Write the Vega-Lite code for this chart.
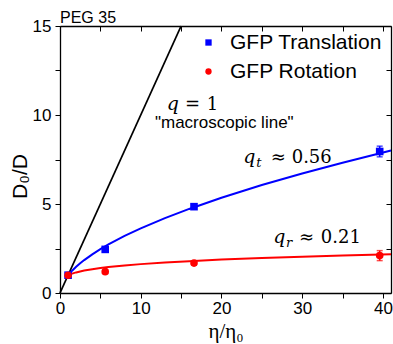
{
  "$schema": "https://vega.github.io/schema/vega-lite/v6.json",
  "autosize": {"type": "none"},
  "padding": {"left": 60, "top": 26, "right": 2, "bottom": 51},
  "width": 331,
  "height": 267,
  "background": "white",
  "config": {
    "view": {"stroke": null},
    "font": "Liberation Sans",
    "axis": {"grid": false, "domainColor": "black", "domainWidth": 1.3, "tickColor": "black", "tickWidth": 1, "labelColor": "black", "titleColor": "black", "labelFont": "Liberation Sans", "labelFontSize": 17}
  },
  "datasets": {
    "pts": [
      {"eta": 1.0, "d": 1.0, "lo": 0.92, "hi": 1.08, "series": "GFP Translation"},
      {"eta": 5.6, "d": 2.45, "lo": 2.35, "hi": 2.55, "series": "GFP Translation"},
      {"eta": 16.6, "d": 4.85, "lo": 4.75, "hi": 4.95, "series": "GFP Translation"},
      {"eta": 39.6, "d": 7.95, "lo": 7.65, "hi": 8.25, "series": "GFP Translation"},
      {"eta": 1.0, "d": 1.0, "lo": 0.92, "hi": 1.08, "series": "GFP Rotation"},
      {"eta": 5.6, "d": 1.2, "lo": 1.1, "hi": 1.3, "series": "GFP Rotation"},
      {"eta": 16.6, "d": 1.68, "lo": 1.58, "hi": 1.78, "series": "GFP Rotation"},
      {"eta": 39.6, "d": 2.1, "lo": 1.82, "hi": 2.38, "series": "GFP Rotation"}
    ],
    "fit": [
      {"eta": 1, "d": 1.0, "series": "GFP Translation"},
      {"eta": 1.25, "d": 1.133, "series": "GFP Translation"},
      {"eta": 1.5, "d": 1.255, "series": "GFP Translation"},
      {"eta": 2, "d": 1.474, "series": "GFP Translation"},
      {"eta": 2.5, "d": 1.670, "series": "GFP Translation"},
      {"eta": 3, "d": 1.850, "series": "GFP Translation"},
      {"eta": 4, "d": 2.173, "series": "GFP Translation"},
      {"eta": 5, "d": 2.463, "series": "GFP Translation"},
      {"eta": 6, "d": 2.728, "series": "GFP Translation"},
      {"eta": 8, "d": 3.204, "series": "GFP Translation"},
      {"eta": 10, "d": 3.631, "series": "GFP Translation"},
      {"eta": 13, "d": 4.205, "series": "GFP Translation"},
      {"eta": 16, "d": 4.723, "series": "GFP Translation"},
      {"eta": 20, "d": 5.353, "series": "GFP Translation"},
      {"eta": 25, "d": 6.065, "series": "GFP Translation"},
      {"eta": 30, "d": 6.718, "series": "GFP Translation"},
      {"eta": 35, "d": 7.322, "series": "GFP Translation"},
      {"eta": 41, "d": 8.001, "series": "GFP Translation"},
      {"eta": 1, "d": 1.0, "series": "GFP Rotation"},
      {"eta": 1.25, "d": 1.048, "series": "GFP Rotation"},
      {"eta": 1.5, "d": 1.089, "series": "GFP Rotation"},
      {"eta": 2, "d": 1.157, "series": "GFP Rotation"},
      {"eta": 2.5, "d": 1.212, "series": "GFP Rotation"},
      {"eta": 3, "d": 1.259, "series": "GFP Rotation"},
      {"eta": 4, "d": 1.338, "series": "GFP Rotation"},
      {"eta": 5, "d": 1.402, "series": "GFP Rotation"},
      {"eta": 6, "d": 1.457, "series": "GFP Rotation"},
      {"eta": 8, "d": 1.548, "series": "GFP Rotation"},
      {"eta": 10, "d": 1.622, "series": "GFP Rotation"},
      {"eta": 13, "d": 1.714, "series": "GFP Rotation"},
      {"eta": 16, "d": 1.790, "series": "GFP Rotation"},
      {"eta": 20, "d": 1.876, "series": "GFP Rotation"},
      {"eta": 25, "d": 1.966, "series": "GFP Rotation"},
      {"eta": 30, "d": 2.043, "series": "GFP Rotation"},
      {"eta": 35, "d": 2.110, "series": "GFP Rotation"},
      {"eta": 41, "d": 2.181, "series": "GFP Rotation"}
    ]
  },
  "resolve": {"axis": {"x": "independent", "y": "independent"}},
  "layer": [
    {
      "data": {"values": [{"eta": 0, "d": 0}, {"eta": 15, "d": 15}]},
      "mark": {"type": "line", "color": "black", "strokeWidth": 1.8},
      "encoding": {
        "x": {"field": "eta", "type": "quantitative", "scale": {"domain": [0, 41], "nice": false, "zero": false},
              "axis": {"orient": "bottom", "values": [0, 5, 10, 15, 20, 25, 30, 35, 40], "labelExpr": "datum.value % 10 === 0 ? datum.label : ''", "tickSize": 5, "labelPadding": 2, "title": "η/η₀", "titleFont": "Liberation Serif", "titleFontSize": 21, "titleFontWeight": "normal", "titlePadding": 4, "labelFlush": false, "labelOverlap": false}},
        "y": {"field": "d", "type": "quantitative", "scale": {"domain": [0, 15], "nice": false},
              "axis": {"orient": "left", "values": [0, 2.5, 5, 7.5, 10, 12.5, 15], "labelExpr": "datum.value % 5 === 0 ? datum.label : ''", "tickSize": 5, "labelPadding": 4, "title": "D₀/D", "titleFont": "Liberation Sans", "titleFontSize": 21, "titleFontWeight": "normal", "titleAngle": -90, "titleBaseline": "alphabetic", "titleAlign": "center", "titleX": -34, "titleY": 150, "labelFlush": false, "labelOverlap": false}}
      }
    },
    {
      "data": {"name": "fit"},
      "transform": [{"filter": "datum.series === 'GFP Translation'"}],
      "mark": {"type": "line", "strokeWidth": 2, "color": "#0000ff"},
      "encoding": {
        "x": {"field": "eta", "type": "quantitative", "axis": {"orient": "top", "values": [0, 5, 10, 15, 20, 25, 30, 35, 40], "labels": false, "tickSize": -5, "title": null}},
        "y": {"field": "d", "type": "quantitative", "axis": {"orient": "right", "values": [0, 2.5, 5, 7.5, 10, 12.5, 15], "labels": false, "tickSize": -5, "title": null}}
      }
    },
    {
      "data": {"name": "fit"},
      "transform": [{"filter": "datum.series === 'GFP Rotation'"}],
      "mark": {"type": "line", "strokeWidth": 2, "color": "#ff0000"},
      "encoding": {
        "x": {"field": "eta", "type": "quantitative", "axis": null},
        "y": {"field": "d", "type": "quantitative", "axis": null}
      }
    },
    {
      "data": {"name": "pts"},
      "transform": [{"filter": "datum.series === 'GFP Translation'"}],
      "mark": {"type": "errorbar", "ticks": {"size": 6}, "color": "#0000ff", "thickness": 1.5},
      "encoding": {
        "x": {"field": "eta", "type": "quantitative", "axis": null},
        "y": {"field": "lo", "type": "quantitative", "axis": null},
        "y2": {"field": "hi"}
      }
    },
    {
      "data": {"name": "pts"},
      "transform": [{"filter": "datum.series === 'GFP Rotation'"}],
      "mark": {"type": "errorbar", "ticks": {"size": 6}, "color": "#ff0000", "thickness": 1.5},
      "encoding": {
        "x": {"field": "eta", "type": "quantitative", "axis": null},
        "y": {"field": "lo", "type": "quantitative", "axis": null},
        "y2": {"field": "hi"}
      }
    },
    {
      "data": {"name": "pts"},
      "mark": {"type": "point", "filled": true, "opacity": 1, "size": 58},
      "encoding": {
        "x": {"field": "eta", "type": "quantitative", "axis": null},
        "y": {"field": "d", "type": "quantitative", "axis": null},
        "color": {"field": "series", "type": "nominal",
                  "scale": {"domain": ["GFP Translation", "GFP Rotation"], "range": ["#0000ff", "#ff0000"]},
                  "legend": {"orient": "none", "legendX": 138, "legendY": 6, "title": null, "padding": 0, "labelFontSize": 21, "labelFont": "Liberation Sans", "labelColor": "black", "labelOffset": 11, "rowPadding": 7, "symbolSize": 40, "labelLimit": 300}},
        "shape": {"field": "series", "type": "nominal",
                  "scale": {"domain": ["GFP Translation", "GFP Rotation"], "range": ["square", "circle"]}}
      }
    },
    {
      "data": {"values": [{"eta": 0, "d": 15, "t": "PEG 35"}]},
      "mark": {"type": "text", "font": "Liberation Sans", "fontSize": 16, "align": "left", "baseline": "alphabetic", "dy": -3, "color": "black"},
      "encoding": {
        "x": {"field": "eta", "type": "quantitative", "axis": null},
        "y": {"field": "d", "type": "quantitative", "axis": null},
        "text": {"field": "t"}
      }
    },
    {
      "data": {"values": [{"eta": 13.22, "d": 10.28, "t": "q"}, {"eta": 22.71, "d": 7.29, "t": "q"}, {"eta": 26.43, "d": 2.79, "t": "q"}]},
      "mark": {"type": "text", "font": "DejaVu Serif", "fontStyle": "italic", "fontSize": 19, "align": "left", "baseline": "alphabetic", "color": "black"},
      "encoding": {
        "x": {"field": "eta", "type": "quantitative", "axis": null},
        "y": {"field": "d", "type": "quantitative", "axis": null},
        "text": {"field": "t"}
      }
    },
    {
      "data": {"values": [{"eta": 24.3, "d": 7.08, "t": "t"}, {"eta": 28.0, "d": 2.58, "t": "r"}]},
      "mark": {"type": "text", "font": "DejaVu Serif", "fontStyle": "italic", "fontSize": 13, "align": "left", "baseline": "alphabetic", "color": "black"},
      "encoding": {
        "x": {"field": "eta", "type": "quantitative", "axis": null},
        "y": {"field": "d", "type": "quantitative", "axis": null},
        "text": {"field": "t"}
      }
    },
    {
      "data": {"values": [
        {"eta": 15.49, "d": 10.28, "t": "="}, {"eta": 18.18, "d": 10.28, "t": "1"},
        {"eta": 26.1, "d": 7.29, "t": "≈"}, {"eta": 28.7, "d": 7.29, "t": "0.56"},
        {"eta": 29.6, "d": 2.79, "t": "≈"}, {"eta": 32.3, "d": 2.79, "t": "0.21"}
      ]},
      "mark": {"type": "text", "font": "DejaVu Serif", "fontSize": 18, "align": "left", "baseline": "alphabetic", "color": "black"},
      "encoding": {
        "x": {"field": "eta", "type": "quantitative", "axis": null},
        "y": {"field": "d", "type": "quantitative", "axis": null},
        "text": {"field": "t"}
      }
    },
    {
      "data": {"values": [{"eta": 20.35, "d": 9.25, "t": "\"macroscopic line\""}]},
      "mark": {"type": "text", "font": "Liberation Sans", "fontSize": 17, "align": "center", "baseline": "alphabetic", "color": "black"},
      "encoding": {
        "x": {"field": "eta", "type": "quantitative", "axis": null},
        "y": {"field": "d", "type": "quantitative", "axis": null},
        "text": {"field": "t"}
      }
    }
  ]
}
